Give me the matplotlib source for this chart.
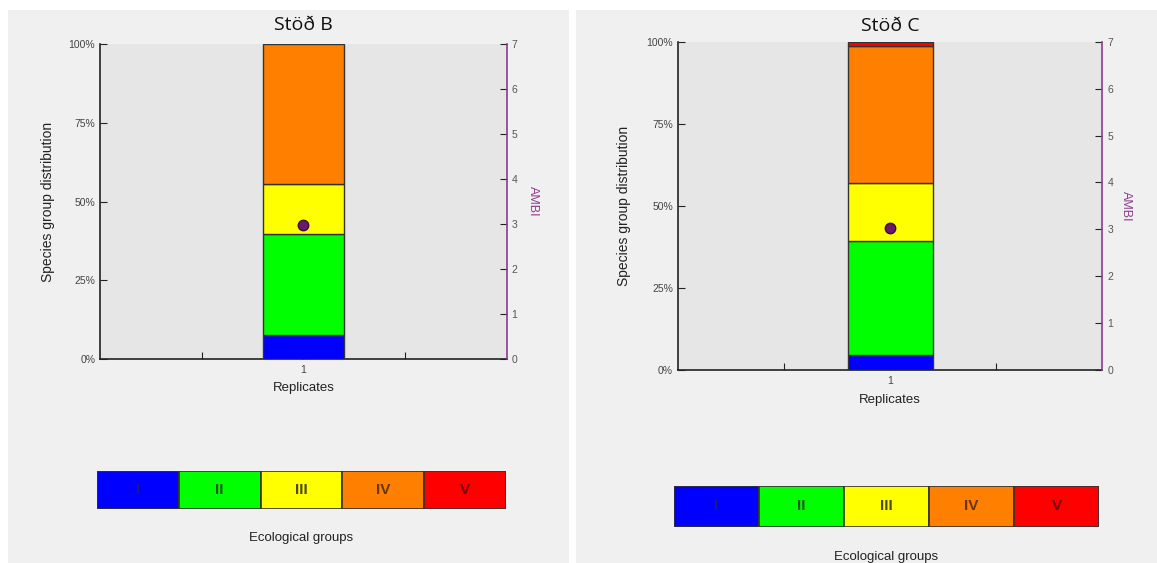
import numpy as np
import matplotlib
matplotlib.use('Agg')
import matplotlib.pyplot as plt
from matplotlib.patches import Rectangle

# DATA
stations = ['Stöð B', 'Stöð C']
groups = ['I', 'II', 'III', 'IV', 'V']
group_colors = ['#0000ff', '#00ff00', '#ffff00', '#ff8000', '#ff0000']
label_colors = ['#1a1a80', '#1a5a1a', '#4a4a10', '#6a3300', '#7a0000']
replicates = ['1']
pct_B = [7.6, 32.0, 16.1, 44.3, 0.0]
pct_C = [4.6, 34.8, 17.5, 41.8, 1.3]
ambi_B = [2.98]
ambi_C = [3.03]

plt.rcParams['font.family'] = ['Liberation Sans', 'DejaVu Sans']

W, H = 1157, 563
fig = plt.figure(figsize=(W / 100, H / 100), dpi=100, facecolor='white')

def fx(px):
    return px / W

def fy(py):
    return 1 - py / H

# panel backgrounds
fig.patches.append(Rectangle((fx(8), 0), fx(569 - 8), fy(10), transform=fig.transFigure,
                             facecolor='#f0f0f0', edgecolor='none', zorder=-10))
fig.patches.append(Rectangle((fx(576), 0), fx(W - 576), fy(10), transform=fig.transFigure,
                             facecolor='#f0f0f0', edgecolor='none', zorder=-10))

purple = '#8e3a8e'

def station_plot(rect, title, pct, ambi, title_y, ylab_x, ambi_x, repl_y):
    l, t, r, b = rect
    ax = fig.add_axes([fx(l), fy(b), fx(r - l), (b - t) / H])
    ax.set_facecolor('#e6e6e6')
    x = np.arange(len(replicates)) + 2
    bottom = 0.0
    for val, col in zip(pct, group_colors):
        if val > 0:
            ax.bar(x, val, 0.8, bottom=bottom, color=col, edgecolor='#333333', linewidth=1.0, zorder=3)
        bottom += val
    ax.set_xlim(0, 4)
    ax.set_ylim(0, 100)
    ax.set_xticks([1, 2, 3])
    ax.set_xticklabels(['', replicates[0], ''])
    ax.set_yticks([0, 25, 50, 75, 100])
    ax.set_yticklabels(['0%', '25%', '50%', '75%', '100%'])
    ax.tick_params(axis='both', direction='in', length=5, labelsize=7.5, labelcolor='#444444', color='#222222')
    ax.tick_params(axis='x', pad=4)
    for s in ['top', 'right']:
        ax.spines[s].set_visible(False)
    for s in ['left', 'bottom']:
        ax.spines[s].set_color('#222222')
        ax.spines[s].set_linewidth(1.2)

    ax2 = ax.twinx()
    ax2.plot(x, ambi, 'o', color='#6a1a6a', markeredgecolor='#3a0a3a', markersize=7.5, zorder=5)
    ax2.set_ylim(0, 7)
    ax2.set_yticks(range(8))
    ax2.tick_params(axis='y', direction='in', length=5, labelsize=7.5, labelcolor='#555555', color='#222222')
    for s in ['top', 'left', 'bottom']:
        ax2.spines[s].set_visible(False)
    ax2.spines['right'].set_color(purple)
    ax2.spines['right'].set_linewidth(1.2)

    cx = (l + r) / 2
    fig.text(fx(cx), fy(title_y), title, ha='center', va='center', fontsize=14,
             family=['Open Sans', 'DejaVu Sans'], color='#111111')
    fig.text(fx(ylab_x), fy((t + b) / 2), 'Species group distribution', rotation=90,
             ha='center', va='center', fontsize=10, color='#222222')
    fig.text(fx(ambi_x), fy((t + b) / 2), 'AMBI', rotation=270,
             ha='center', va='center', fontsize=9, color=purple)
    fig.text(fx(cx), fy(repl_y), 'Replicates', ha='center', va='center', fontsize=9.5, color='#222222')

def group_legend(rect, lab_y):
    l, t, r, b = rect
    ax = fig.add_axes([fx(l), fy(b), fx(r - l), (b - t) / H])
    for i, (g, col, lc) in enumerate(zip(groups, group_colors, label_colors)):
        ax.add_patch(Rectangle((i, 0), 1, 1, facecolor=col, edgecolor='#333333', linewidth=1.2))
        ax.text(i + 0.5, 0.5, g, ha='center', va='center', fontsize=11, fontweight='bold', color=lc)
    ax.set_xlim(0, len(groups))
    ax.set_ylim(0, 1)
    ax.axis('off')
    fig.text(fx((l + r) / 2), fy(lab_y), 'Ecological groups', ha='center', va='center',
             fontsize=9.5, color='#222222')

station_plot((100, 44.3, 506.8, 359), stations[0], pct_B, ambi_B, 25, 48, 533, 388)
station_plot((677.7, 41.7, 1102.4, 370), stations[1], pct_C, ambi_C, 26, 624, 1126, 400)
group_legend((97, 471, 506, 509), 538)
group_legend((674, 486, 1099, 527), 557)

fig.savefig('out.png', dpi=100, facecolor='white')
